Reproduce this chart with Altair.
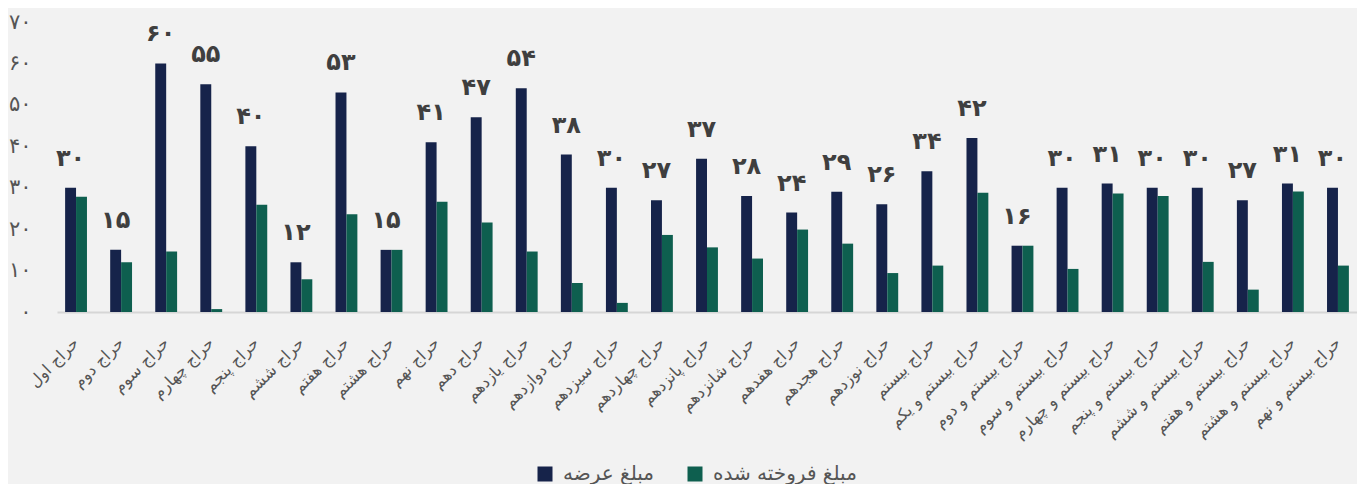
import altair as alt
import pandas as pd

categories = [
    "حراج اول", "حراج دوم", "حراج سوم", "حراج چهارم", "حراج پنجم", "حراج ششم",
    "حراج هفتم", "حراج هشتم", "حراج نهم", "حراج دهم", "حراج یازدهم", "حراج دوازدهم",
    "حراج سیزدهم", "حراج چهاردهم", "حراج پانزدهم", "حراج شانزدهم", "حراج هفدهم",
    "حراج هجدهم", "حراج نوزدهم", "حراج بیستم", "حراج بیستم و یکم", "حراج بیستم و دوم",
    "حراج بیستم و سوم", "حراج بیستم و چهارم", "حراج بیستم و پنجم", "حراج بیستم و ششم",
    "حراج بیستم و هفتم", "حراج بیستم و هشتم", "حراج بیستم و نهم",
]
offered = [30, 15, 60, 55, 40, 12, 53, 15, 41, 47, 54, 38, 30, 27, 37, 28, 24, 29, 26,
           34, 42, 16, 30, 31, 30, 30, 27, 31, 30]
sold = [27.8, 12, 14.6, 0.7, 25.9, 7.9, 23.6, 15, 26.6, 21.6, 14.6, 7.0, 2.2, 18.6, 15.6,
        12.9, 19.9, 16.5, 9.4, 11.2, 28.8, 16, 10.4, 28.6, 28.0, 12.1, 5.4, 29.1, 11.2]
series_names = ["مبلغ عرضه", "مبلغ فروخته شده"]
series_colors = ["#16234a", "#0e5f4f"]
y_ticks = [0, 10, 20, 30, 40, 50, 60, 70]

fa_digits = "۰۱۲۳۴۵۶۷۸۹"


def to_fa(n):
    return "".join(fa_digits[int(c)] if c.isdigit() else c for c in str(n))


y_tick_labels = [to_fa(v) for v in y_ticks]

rows = []
for c, o, s in zip(categories, offered, sold):
    rows.append({"category": c, "series": series_names[0], "value": o, "label": to_fa(o)})
    rows.append({"category": c, "series": series_names[1], "value": s, "label": ""})
df = pd.DataFrame(rows)

label_expr = " : ".join(
    f"datum.value == {v} ? '{l}'" for v, l in zip(y_ticks, y_tick_labels)
) + " : ''"

FONT = "DejaVu Sans"

x_enc = alt.X(
    "category:N",
    sort=categories,
    scale=alt.Scale(paddingInner=0.515, paddingOuter=0.18),
    axis=alt.Axis(
        title=None, labelAngle=-45, ticks=False, labelPadding=28,
        labelFontSize=16, labelColor="#555555", labelFont=FONT,
        domainColor="#d6d6d6", domainWidth=2, labelOverlap=False,
        labelAlign="right", labelBaseline="middle",
    ),
)
xoff_enc = alt.XOffset("series:N", sort=series_names,
                       scale=alt.Scale(domain=series_names))
y_enc = alt.Y(
    "value:Q",
    scale=alt.Scale(domain=[0, 70]),
    axis=alt.Axis(
        title=None, values=y_ticks, labelExpr=label_expr, grid=False, ticks=False,
        domain=False, labelPadding=26, labelFontSize=21, labelColor="#555555",
        labelFont=FONT,
    ),
)

bars = alt.Chart(df).mark_bar().encode(
    x=x_enc,
    xOffset=xoff_enc,
    y=y_enc,
    color=alt.Color(
        "series:N",
        sort=series_names,
        scale=alt.Scale(domain=series_names, range=series_colors),
        legend=alt.Legend(
            title=None, orient="none", direction="horizontal", legendX=478, legendY=442,
            symbolType="square", symbolSize=225, symbolStrokeWidth=0, symbolOpacity=1,
            labelFontSize=20, labelColor="#555555", labelFont=FONT, labelOffset=8,
            columnPadding=30,
        ),
    ),
)

labels = alt.Chart(df).transform_filter(
    alt.datum.series == series_names[0]
).mark_text(
    fontSize=24, fontWeight="bold", color="#3f3f3f", baseline="alphabetic", dy=-22,
    font=FONT,
).encode(
    x=x_enc,
    xOffset=xoff_enc,
    y=y_enc,
    text="label:N",
)

chart = alt.layer(bars, labels).properties(
    width=1300, height=290, background="#f2f2f2",
    padding={"left": 0, "top": 3, "right": 0, "bottom": 0},
).configure_view(stroke=None)

chart.save("out.html", embed_options={"renderer": "svg", "actions": False})
